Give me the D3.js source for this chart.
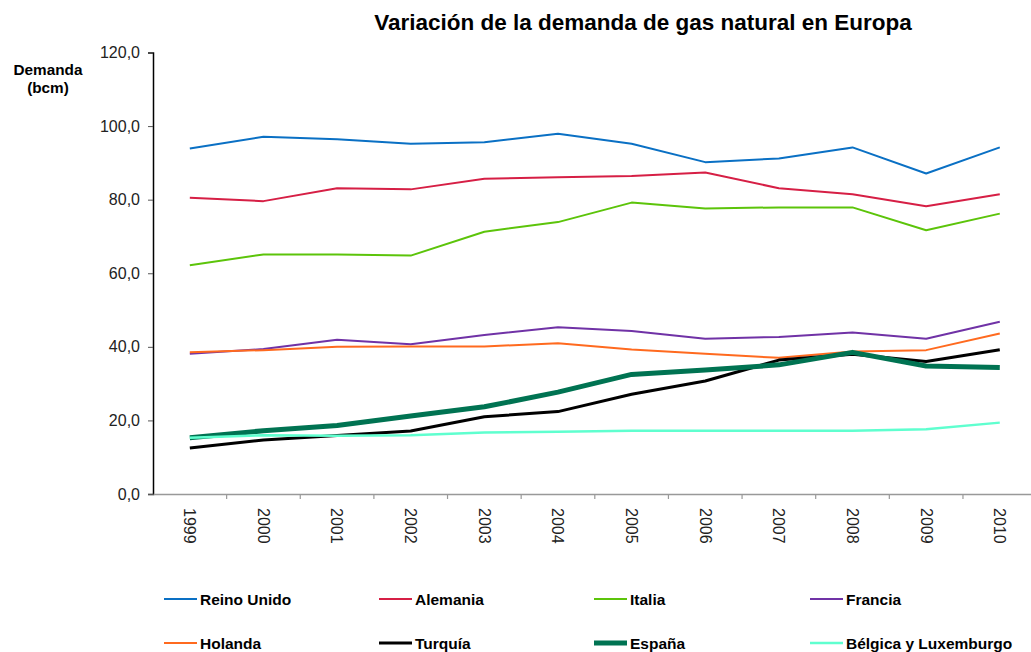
<!DOCTYPE html>
<html><head><meta charset="utf-8">
<script src="https://cdn.jsdelivr.net/npm/d3@7"></script>
<style>body{margin:0;background:#fff}svg{display:block;font-family:"Liberation Sans",Arial,sans-serif}</style>
</head><body><svg id="c" width="1031" height="652"></svg>
<script>
const years = ["1999","2000","2001","2002","2003","2004","2005","2006","2007","2008","2009","2010"];
const yTicks = [0,20,40,60,80,100,120];
const reinoUnido = [93.9,97.1,96.4,95.2,95.6,97.9,95.2,90.2,91.2,94.2,87.1,94.2];
const alemania = [80.5,79.6,83.1,82.8,85.7,86.1,86.4,87.4,83.1,81.5,78.2,81.5];
const italia = [62.2,65.1,65.1,64.8,71.3,73.9,79.2,77.6,77.9,77.9,71.7,76.2];
const francia = [38.1,39.4,41.9,40.7,43.2,45.3,44.3,42.2,42.7,43.9,42.2,46.8];
const holanda = [38.5,39.1,40.0,40.1,40.1,41.0,39.3,38.1,37.0,38.7,39.1,43.6];
const turquia = [12.5,14.7,15.9,17.1,21.0,22.4,27.1,30.7,36.4,38.0,36.0,39.2];
const espana = [15.3,17.2,18.6,21.2,23.7,27.7,32.5,33.7,35.1,38.5,34.8,34.4];
const belgica = [15.3,16.0,15.8,16.0,16.7,16.9,17.2,17.2,17.2,17.2,17.6,19.4];
const seriesNames = ["Reino Unido","Alemania","Italia","Francia","Holanda","Turquía","España","Bélgica y Luxemburgo"];
const seriesValues = [reinoUnido,alemania,italia,francia,holanda,turquia,espana,belgica];
const seriesColors = ["#0a70c4","#d61f45","#5cc40a","#7032a6","#ff6a1f","#000000","#007352","#5fffcf"];
const seriesWidths = [2,2,2,2,2,3,5,2.5];

const svg = d3.select("#c");
const x = d3.scaleBand().domain(years).range([153, 1036.6]);
const y = d3.scaleLinear().domain([0,120]).range([494, 52.5]);

// title
svg.append("text").attr("x",643).attr("y",30).attr("text-anchor","middle")
  .attr("font-size",22.5).attr("font-weight","bold").attr("fill","#000")
  .text("Variación de la demanda de gas natural en Europa");
// y label
svg.append("text").attr("x",48).attr("y",75).attr("text-anchor","middle")
  .attr("font-size",15.3).attr("font-weight","bold").text("Demanda");
svg.append("text").attr("x",48).attr("y",93).attr("text-anchor","middle")
  .attr("font-size",15.3).attr("font-weight","bold").text("(bcm)");

// y axis
const fmt = v => d3.format(".1f")(v).replace(".",",");
const gy = svg.append("g").attr("transform","translate(153,0)")
  .call(d3.axisLeft(y).tickValues(yTicks).tickFormat(fmt).tickSize(5).tickPadding(8));
gy.select(".domain").attr("stroke","#000").attr("stroke-width",1.5);
gy.selectAll(".tick line").attr("stroke","#555");
gy.selectAll(".tick text").attr("font-size",16).attr("fill","#222").attr("font-family","Liberation Sans, Arial, sans-serif");

// x axis
const gx = svg.append("g").attr("transform","translate(0,494)")
  .call(d3.axisBottom(x).tickSize(0).tickPadding(0));
gx.select(".domain").attr("stroke","#999").attr("stroke-width",1.5);
gx.selectAll(".tick text").attr("font-size",16).attr("fill","#222")
  .attr("font-family","Liberation Sans, Arial, sans-serif")
  .attr("text-anchor","start").attr("dy","0.35em")
  .attr("transform","translate(0,14) rotate(90)");
// boundary ticks
gx.selectAll(".bt").data(years.slice(1).concat(["end"])).enter().append("line")
  .attr("class","bt")
  .attr("x1",(d,i)=>153 + (i+1)*x.step()).attr("x2",(d,i)=>153 + (i+1)*x.step())
  .attr("y1",0).attr("y2",5).attr("stroke","#999").attr("stroke-width",1.2);

// lines
const line = d3.line().x((d,i)=>x(years[i])+x.bandwidth()/2).y(d=>y(d));
seriesValues.forEach((vals,k)=>{
  svg.append("path").attr("d",line(vals)).attr("fill","none")
    .attr("stroke",seriesColors[k]).attr("stroke-width",seriesWidths[k])
    .attr("stroke-linejoin","round");
});

// legend
const legX = [164,379,594,810], legY = [599,643];
seriesNames.forEach((n,k)=>{
  const cx = legX[k%4], cy = legY[Math.floor(k/4)];
  svg.append("line").attr("x1",cx).attr("x2",cx+33).attr("y1",cy).attr("y2",cy)
    .attr("stroke",seriesColors[k]).attr("stroke-width",Math.max(seriesWidths[k],2));
  svg.append("text").attr("x",cx+36).attr("y",cy+5.5).attr("font-size",15.5)
    .attr("font-weight","bold").attr("fill","#000").text(n);
});
</script></body></html>
